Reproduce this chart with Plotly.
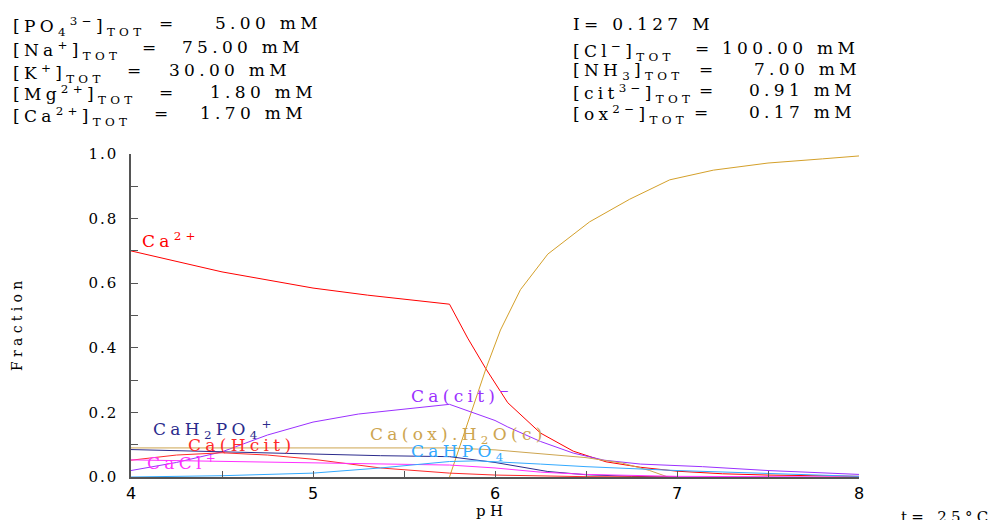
import plotly.graph_objects as go

# ---------------- data ----------------
ph_ca = [4.0, 4.5, 5.0, 5.3, 5.75, 5.85, 5.95, 6.07, 6.25, 6.43, 6.61, 6.8, 7.0, 7.25, 7.5, 8.0]
ca = [0.70, 0.635, 0.585, 0.563, 0.535, 0.43, 0.335, 0.23, 0.136, 0.08, 0.047, 0.03, 0.018, 0.01, 0.006, 0.002]

ph_hap = [5.75, 5.85, 5.95, 6.03, 6.14, 6.29, 6.52, 6.74, 6.96, 7.2, 7.5, 7.8, 8.0]
hap = [0.0, 0.17, 0.335, 0.455, 0.58, 0.69, 0.79, 0.86, 0.92, 0.95, 0.972, 0.985, 0.994]

ph_cit = [4.0, 4.25, 4.5, 4.75, 5.0, 5.25, 5.5, 5.75, 6.0, 6.07, 6.25, 6.43, 6.6, 6.8, 7.14, 7.5, 8.0]
cacit = [0.02, 0.045, 0.078, 0.13, 0.17, 0.195, 0.21, 0.225, 0.175, 0.155, 0.11, 0.074, 0.052, 0.04, 0.032, 0.02, 0.008]

ph_ox = [4.0, 5.75, 6.0, 6.25, 6.5, 6.7, 6.85, 6.95]
caox = [0.09, 0.09, 0.084, 0.073, 0.06, 0.043, 0.02, 0.0]

ph_h2po4 = [4.0, 4.5, 5.0, 5.37, 5.75, 6.0, 6.29, 6.5, 6.75, 7.0]
cah2po4 = [0.085, 0.078, 0.072, 0.066, 0.063, 0.045, 0.017, 0.007, 0.002, 0.0]

ph_hcit = [4.0, 4.25, 4.5, 4.75, 5.0, 5.37, 5.75, 6.0, 6.5, 7.0]
cahcit = [0.052, 0.068, 0.075, 0.068, 0.055, 0.028, 0.012, 0.006, 0.001, 0.0]

ph_cl = [4.0, 5.37, 5.75, 6.0, 6.25, 6.5, 7.0, 8.0]
cacl = [0.053, 0.04, 0.037, 0.028, 0.015, 0.008, 0.002, 0.0]

ph_hpo4 = [4.0, 4.2, 4.5, 5.0, 5.37, 5.75, 5.9, 6.25, 6.5, 7.0, 7.5, 8.0]
cahpo4 = [0.0, 0.001, 0.004, 0.012, 0.028, 0.048, 0.05, 0.04, 0.032, 0.02, 0.012, 0.002]

x_ticks = [4, 5, 6, 7, 8]
y_ticks = [0.0, 0.2, 0.4, 0.6, 0.8, 1.0]
y_ticklabels = ["0.0", "0.2", "0.4", "0.6", "0.8", "1.0"]

series = [
    ("Ca<sup>2+</sup>", ph_ca, ca, "#FF0000", 4.05, 0.734),
    ("Ca<sub>5</sub>(PO<sub>4</sub>)<sub>3</sub>OH(c)", ph_hap, hap, "#D4A02A", 7.35, 1.03),
    ("Ca(cit)<sup>−</sup>", ph_cit, cacit, "#9B30FF", 5.53, 0.254),
    ("Ca(ox).H<sub>2</sub>O(c)", ph_ox, caox, "#CDA550", 5.3, 0.130),
    ("CaH<sub>2</sub>PO<sub>4</sub><sup>+</sup>", ph_h2po4, cah2po4, "#2B2B8C", 4.11, 0.146),
    ("Ca(Hcit)", ph_hcit, cahcit, "#FF2A2A", 4.3, 0.099),
    ("CaCl<sup>+</sup>", ph_cl, cacl, "#FF30FF", 4.075, 0.046),
    ("CaHPO<sub>4</sub>", ph_hpo4, cahpo4, "#33AAFF", 5.53, 0.077),
]

SERIF = "DejaVu Serif, serif"

fig = go.Figure()
for name, xs, ys, col, lx, ly in series:
    fig.add_trace(go.Scatter(x=xs, y=ys, mode="lines", line=dict(color=col, width=1),
                             name=name, hoverinfo="skip"))

ann = []
for name, xs, ys, col, lx, ly in series:
    ann.append(dict(x=lx, y=ly, xref="x", yref="y", text=name, showarrow=False,
                    xanchor="left", yanchor="middle", align="left",
                    font=dict(family=SERIF, size=17, color=col)))

L, R, T, B = 131, 859, 154, 477


def px(xp):
    return (xp - L) / (R - L)


def py(yp):
    return (B - yp) / (B - T)


def head(text, x, y):
    ann.append(dict(x=px(x), y=py(y), xref="paper", yref="paper", text=text,
                    showarrow=False, xanchor="left", yanchor="middle", align="left",
                    font=dict(family=SERIF, size=17, color="#000000")))


left_rows = [
    ("[PO<sub>4</sub><sup>3−</sup>]<sub>TOT</sub>", 157, "5.00 mM", 213, 26),
    ("[Na<sup>+</sup>]<sub>TOT</sub>", 140, "75.00 mM", 180, 50),
    ("[K<sup>+</sup>]<sub>TOT</sub>", 125, "30.00 mM", 167, 73),
    ("[Mg<sup>2+</sup>]<sub>TOT</sub>", 157, "1.80 mM", 208, 95),
    ("[Ca<sup>2+</sup>]<sub>TOT</sub>", 152, "1.70 mM", 198, 116),
]
right_rows = [
    ("[Cl<sup>−</sup>]<sub>TOT</sub>", 693, "100.00 mM", 720, 51),
    ("[NH<sub>3</sub>]<sub>TOT</sub>", 697, "7.00 mM", 752, 72),
    ("[cit<sup>3−</sup>]<sub>TOT</sub>", 697, "0.91 mM", 747, 93),
    ("[ox<sup>2−</sup>]<sub>TOT</sub>", 692, "0.17 mM", 747, 115),
]
for lab, xe, val, xv, yc in left_rows:
    head(lab, 11, yc)
    head("=", xe, yc - 3)
    head(val, xv, yc - 3)
head("I= 0.127 M", 571, 24)
for lab, xe, val, xv, yc in right_rows:
    head(lab, 571, yc)
    head("=", xe, yc - 3)
    head(val, xv, yc - 3)

ann.append(dict(x=px(474), y=py(511), xref="paper", yref="paper", text="pH",
                showarrow=False, xanchor="left", yanchor="middle", align="left",
                font=dict(family=SERIF, size=15, color="#000000")))
ann.append(dict(x=px(899), y=py(506), xref="paper", yref="paper", text="t= 25°C",
                showarrow=False, xanchor="left", yanchor="top", align="left",
                font=dict(family=SERIF, size=15, color="#000000")))
ann.append(dict(x=px(17), y=py(341), xref="paper", yref="paper", text="Fraction",
                showarrow=False, xanchor="center", yanchor="middle", align="left",
                textangle=-90, font=dict(family=SERIF, size=14, color="#000000")))

axcol = "#555555"
fig.update_layout(
    width=992, height=520, autosize=False,
    margin=dict(l=L, r=992 - R, t=T, b=520 - B, pad=0),
    paper_bgcolor="white", plot_bgcolor="white", showlegend=False,
    annotations=ann,
    xaxis=dict(range=[4, 8], tickvals=x_ticks, ticktext=[str(v) for v in x_ticks],
               showgrid=False, zeroline=False, showline=True, linecolor=axcol, linewidth=1.5,
               ticks="inside", ticklen=6, tickwidth=1, tickcolor=axcol,
               minor=dict(ticks="inside", dtick=0.5, ticklen=6, tickcolor=axcol, showgrid=False),
               tickfont=dict(family="DejaVu Sans", size=16, color="#000000"),
               ticklabelstandoff=1),
    yaxis=dict(range=[0, 1], tickvals=y_ticks, ticktext=y_ticklabels,
               showgrid=False, zeroline=False, showline=True, linecolor=axcol, linewidth=1.5,
               ticks="inside", ticklen=7, tickwidth=1, tickcolor=axcol,
               minor=dict(ticks="inside", dtick=0.1, ticklen=7, tickcolor=axcol, showgrid=False),
               tickfont=dict(family=SERIF, size=15, color="#000000"),
               ticklabelstandoff=8),
)

post = """
var s=document.createElement('style');
s.innerHTML='.annotation-text{letter-spacing:4.3px} .ytick text{letter-spacing:2px}';
document.head.appendChild(s);
"""
fig.write_html("out.html", post_script=post)
